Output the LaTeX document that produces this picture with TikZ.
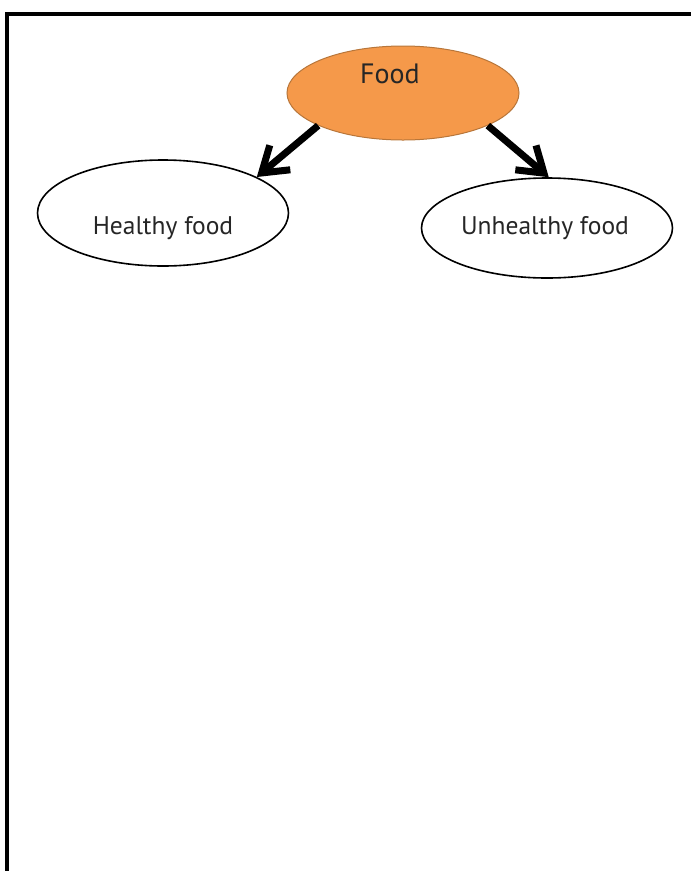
\documentclass[tikz,border=0pt]{standalone}
\usepackage{fontspec}
\setmainfont{PT Sans}
\usetikzlibrary{arrows.meta,shapes.geometric}
\definecolor{foodfill}{HTML}{F5994A}
\definecolor{foodline}{HTML}{B8763A}
\definecolor{labeltext}{HTML}{262626}
\tikzset{
  bubble/.style={ellipse, draw=black, line width=1.6pt, fill=white, inner sep=0pt},
  bubbletext/.style={text=labeltext, font=\fontsize{25.5}{29}\selectfont},
  rootbubble/.style={ellipse, draw=foodline, line width=1pt, fill=foodfill, inner sep=0pt},
  branch/.style={line width=7pt, draw=black, -{Straight Barb[length=24pt,width=32pt]}},
  frame/.style={draw=black, line width=3.5pt}
}
\begin{document}
\begin{tikzpicture}[x=1pt,y=-1pt]
  \useasboundingbox (0,0) rectangle (691,871);
  \clip (0,0) rectangle (691,871);
  % outer page frame, running off the right and bottom edges
  \draw[frame] (7,14) rectangle (740,920);

  % root concept
  \node[rootbubble, minimum width=232pt, minimum height=94pt,
        label={[text=labeltext, font=\fontsize{28}{31}\selectfont, xshift=-13pt, yshift=19pt]center:Food}]
        (food) at (403,93) {};

  % the two categories
  \node[bubble, minimum width=251pt, minimum height=106pt,
        label={[bubbletext, yshift=-15pt]center:Healthy food}] (healthy) at (163,213) {};
  \node[bubble, minimum width=251pt, minimum height=100pt,
        label={[bubbletext, xshift=-2pt]center:Unhealthy food}] (unhealthy) at (547,228) {};

  % connectors
  \draw[branch] (food.201) -- (healthy.21);
  \draw[branch] (food.339) -- (unhealthy.88);
\end{tikzpicture}
\end{document}
